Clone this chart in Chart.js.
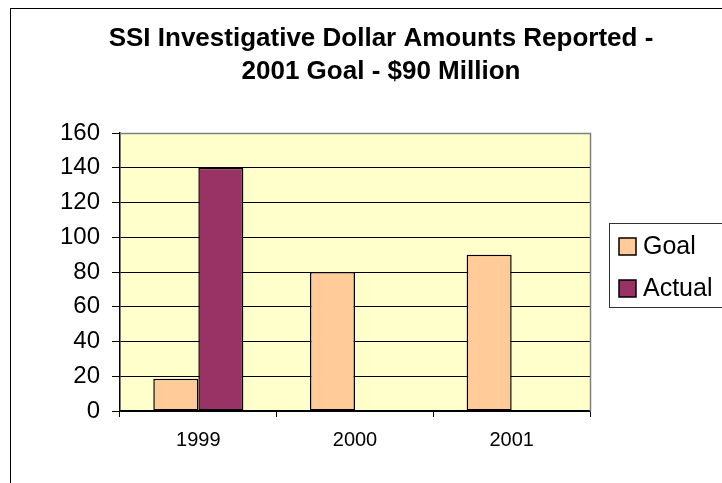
<!DOCTYPE html>
<html>
<head>
<meta charset="utf-8">
<script src="https://cdn.jsdelivr.net/npm/chart.js@4/dist/chart.umd.min.js"></script>
<style>
    html, body { margin: 0; padding: 0; background: #fff; overflow: hidden; }
    #wrap { position: relative; width: 722px; height: 483px; }
</style>
</head>
<body>
<div id="wrap"><canvas id="myChart" width="722" height="483"></canvas></div>
<script>
/* ===============================
   DATA
=============================== */
const titleLines = ["SSI Investigative Dollar Amounts Reported -", "2001 Goal - $90 Million"];
const categories = ["1999", "2000", "2001"];
const goalValues = [18.5, 80, 90];
const actualValues = [140, null, null];
const yMin = 0;
const yMax = 160;
const yStep = 20;

const FONT = "'Liberation Sans', Arial, sans-serif";

/* ===============================
   PLUGINS
=============================== */
const framePlugin = {
    id: "frame",
    beforeDraw(chart) {
        const c = chart.ctx;
        const a = chart.chartArea;
        c.save();
        c.fillStyle = "#fff";
        c.fillRect(0, 0, chart.width, chart.height);
        // outer frame (runs off the right and bottom edge)
        c.strokeStyle = "#000";
        c.lineWidth = 1;
        c.strokeRect(10.5, 8.5, 800, 600);
        // plot background
        c.fillStyle = "#FFFFCC";
        c.fillRect(a.left, a.top, a.right - a.left, a.bottom - a.top);
        c.restore();
    },
    afterLayout(chart) {
        // centre title like the original (shifted right)
        if (chart.titleBlock) {
            chart.titleBlock.left = 40;
            chart.titleBlock.right = 722;
        }
    },
    afterDraw(chart) {
        const c = chart.ctx;
        const a = chart.chartArea;
        c.save();
        // grey plot border (top + right)
        c.strokeStyle = "#808080";
        c.lineWidth = 1.5;
        c.beginPath();
        c.moveTo(a.left, a.top + 0.5);
        c.lineTo(a.right + 0.5, a.top + 0.5);
        c.lineTo(a.right + 0.5, a.bottom);
        c.stroke();

        // legend box
        const lx = 609.5, ly = 223.5;
        c.strokeStyle = "#333";
        c.lineWidth = 1;
        c.fillStyle = "#fff";
        c.fillRect(lx, ly, 130, 84);
        c.strokeRect(lx, ly, 130, 84);

        c.font = "25px " + FONT;
        c.textBaseline = "middle";
        c.textAlign = "left";
        chart.data.datasets.forEach((ds, i) => {
            const y = 238 + i * 42;
            c.fillStyle = ds.backgroundColor;
            c.fillRect(619, y, 17, 17);
            c.strokeStyle = "#000";
            c.lineWidth = 1.5;
            c.strokeRect(619, y, 17, 17);
            c.fillStyle = "#000";
            c.fillText(ds.label, 643, y + 9);
        });
        c.restore();
    }
};

/* ===============================
   CHART
=============================== */
const ctx = document.getElementById("myChart");

const myChart = new Chart(ctx, {
    type: "bar",
    data: {
        labels: categories,
        datasets: [
            {
                label: "Goal",
                data: goalValues,
                backgroundColor: "#FFCC99",
                borderColor: "#000",
                borderWidth: 1.5,
                borderSkipped: false,
                categoryPercentage: 0.575,
                barPercentage: 1
            },
            {
                label: "Actual",
                data: actualValues,
                backgroundColor: "#993366",
                borderColor: "#000",
                borderWidth: 1.5,
                borderSkipped: false,
                categoryPercentage: 0.575,
                barPercentage: 1
            }
        ]
    },
    options: {
        responsive: false,
        animation: false,
        devicePixelRatio: 1,
        layout: {
            padding: { left: 10, right: 132, top: 0, bottom: 0 }
        },
        plugins: {
            legend: { display: false },
            tooltip: { enabled: false },
            title: {
                display: true,
                text: titleLines,
                color: "#000",
                font: { family: FONT, size: 26, weight: "bold", lineHeight: 1.27 },
                padding: { top: 22, bottom: 45 }
            }
        },
        scales: {
            x: {
                offset: true,
                grid: {
                    offset: true,
                    drawOnChartArea: false,
                    drawTicks: true,
                    tickLength: 6,
                    color: "#000"
                },
                border: { color: "#000", width: 1.5 },
                ticks: {
                    color: "#000",
                    font: { family: FONT, size: 20 },
                    padding: 11,
                    maxRotation: 0
                },
                afterFit(scale) { scale.height = 72; }
            },
            y: {
                min: yMin,
                max: yMax,
                ticks: {
                    stepSize: yStep,
                    color: "#000",
                    font: { family: FONT, size: 24 },
                    padding: 12
                },
                grid: {
                    color: "#000",
                    lineWidth: 1,
                    tickLength: 8,
                    drawTicks: true
                },
                border: { color: "#000", width: 1.5 },
                afterFit(scale) { scale.width = 110; }
            }
        }
    },
    plugins: [framePlugin]
});
</script>
</body>
</html>
